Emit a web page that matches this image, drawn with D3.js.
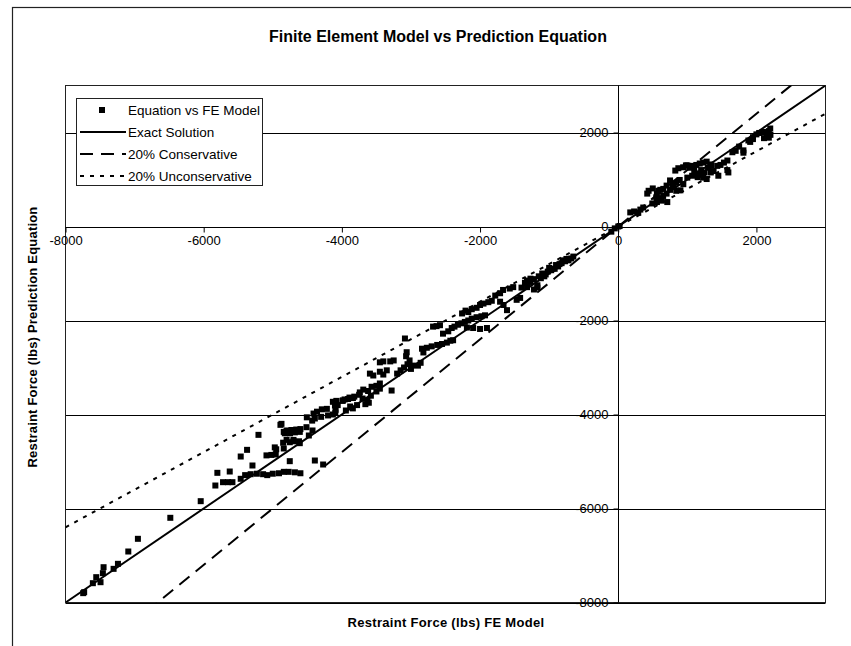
<!DOCTYPE html>
<html>
<head>
<meta charset="utf-8">
<script src="https://cdn.jsdelivr.net/npm/d3@7"></script>
<style>
  body { margin: 0; background: #fff; }
  text { font-family: Arial, "Liberation Sans", sans-serif; fill: #000; }
</style>
</head>
<body>
<svg id="chart" width="851" height="646"></svg>
<script>
// FE model force (x) vs prediction equation force (y), lbs
var points = [
  [-7744,-7801],[-7730,-7780],[-7604,-7589],[-7555,-7461],[-7493,-7568],[-7459,-7376],[-7449,-7249],
  [-7304,-7284],[-7241,-7177],[-7091,-6915],[-6952,-6645],[-6483,-6198],[-6043,-5844],[-5831,-5511],
  [-5802,-5241],[-5720,-5440],[-5648,-5440],[-5584,-5440],[-5623,-5213],[-5464,-5368],
  [-5400,-5290],[-5320,-5270],[-5230,-5260],[-5140,-5270],[-5080,-5290],[-5000,-5260],[-4910,-5250],
  [-4840,-5220],[-4770,-5220],[-4680,-5230],[-4600,-5250],
  [-5294,-5085],[-5464,-4894],[-5372,-4752],[-5207,-4433],[-5091,-4870],[-5020,-4860],[-4957,-4850],
  [-4971,-4700],[-4950,-4740],[-4889,-4220],[-4841,-4370],[-4800,-4340],[-4730,-4330],[-4660,-4320],
  [-4600,-4310],[-4754,-4590],[-4700,-4570],[-4609,-4610],[-4841,-4723],[-4754,-4993],[-4512,-4270],
  [-4425,-4340],[-4478,-4447],[-4391,-4979],[-4271,-5064],
  [-4391,-4085],[-4300,-4050],[-4200,-4020],[-4130,-4000],[-4100,-3810],[-4090,-3900],[-4095,-3960],
  [-3986,-3700],[-3890,-3640],[-3820,-3620],[-3750,-3580],[-3700,-3660],[-3630,-3700],[-3580,-3600],
  [-3500,-3510],[-3450,-3450],[-3942,-3915],[-3841,-3870],
  [-4874,-4199],[-4826,-4400],[-4750,-4400],[-4680,-4380],[-4609,-4370],[-4850,-4600],[-4800,-4540],
  [-4700,-4540],[-4620,-4570],
  [-4507,-4060],[-4430,-4130],[-4410,-3980],[-4360,-3940],[-4290,-3890],[-4217,-3880],
  [-4130,-3730],[-4080,-3710],[-4060,-3800],[-3990,-3710],[-3960,-3680],[-3910,-3670],[-3840,-3650],
  [-3880,-3830],[-3780,-3800],[-3660,-3780],[-3610,-3750],
  [-3740,-3530],[-3690,-3470],[-3620,-3500],[-3570,-3410],[-3500,-3390],[-3450,-3340],
  [-3594,-3130],[-3545,-3170],[-3450,-3090],[-3400,-3150],[-3350,-3060],
  [-3450,-2890],[-3400,-2870],[-3300,-2870],[-3250,-2850],[-3280,-3490],
  [-3200,-3130],[-3150,-3060],[-3100,-3000],[-3050,-2930],[-3020,-2850],[-3000,-3030],[-2985,-2960],
  [-3087,-2383],[-3062,-2675],[-3070,-2760],[-2899,-2960],[-2860,-2900],
  [-2840,-2600],[-2770,-2580],[-2700,-2550],[-2620,-2520],[-2550,-2500],[-2480,-2470],[-2430,-2430],
  [-2390,-2420],[-2820,-2680],
  [-2680,-2130],[-2630,-2120],[-2580,-2100],
  [-2536,-2280],[-2460,-2230],[-2410,-2160],[-2370,-2130],[-2320,-2090],[-2270,-2060],[-2220,-2030],
  [-2170,-2000],[-2120,-1960],[-2050,-1930],[-1980,-1910],[-1928,-1890],
  [-2260,-1850],[-2210,-1790],[-2170,-1820],[-2120,-1760],[-2050,-1730],[-2000,-1670],[-1950,-1640],
  [-1880,-1610],[-1830,-1580],[-1780,-1470],[-1710,-1420],
  [-2190,-2150],[-2100,-2160],[-2000,-2180],[-1900,-2160],
  [-1710,-1600],[-1660,-1670],[-1610,-1780],
  [-1667,-1350],[-1570,-1320],[-1520,-1290],[-1470,-1560],[-1420,-1520],
  [-1320,-1290],[-1270,-1180],[-1220,-1120],[-1170,-1250],[-1120,-1100],[-1070,-1060],[-1020,-960],
  [-970,-930],[-920,-900],[-870,-850],[-820,-780],[-770,-740],[-720,-720],[-680,-680],[-650,-640],
  [-1220,-1340],[-1170,-1300],[-1320,-1150],[-1270,-1110],
  [-1400,-1300],[-1350,-1200],[-1100,-1000],[-1000,-880],[-900,-820],[-800,-720],[-750,-690],
  [-1150,-1060],[-1050,-1020],[-950,-900],[-850,-800],
  [-100,-110],[-50,-40],[0,0],[20,10],
  [174,300],[230,320],[290,290],[320,360],[362,404],
  [420,700],[440,760],[500,810],[560,700],[580,760],[609,780],
  [493,490],[560,520],[630,550],[710,520],
  [652,800],[700,870],[750,980],[790,900],[840,930],[890,990],[840,760],[900,770],[942,900],
  [826,1190],[870,1240],[940,1260],[980,1300],[1030,1250],[1080,1290],[1130,1310],[1180,1340],
  [1230,1360],[1280,1380],[1333,1320],
  [1000,1040],[1070,1080],[1140,1130],[1190,1100],[1230,1040],[1280,1010],[1340,1150],[1380,1180],
  [1449,1080],[1434,1290],[1480,1310],[1530,1360],[1580,1404],[1580,1200],[1594,1150],
  [1652,1580],[1700,1610],[1750,1700],[1812,1620],[1812,1570],
  [1884,1830],[1910,1800],[1950,1900],[2000,1960],[2040,1990],[2090,2010],[2130,2010],[2150,1950],
  [2180,2030],[2110,1880],[1950,1860],[2200,2085],[2203,1950],[2180,1890],
  [1000,1300],[1100,1200],[1200,1200],[1300,1250],[750,780],[800,850],[650,650],[700,700],
  [600,600],[550,620],[1150,1050],[1250,1150],[1350,1300]
];

// reference lines, two end points each
var lineX = [-8000, 3000];
var exactY = [-8000, 3000];
var consY = [-9600, 3600];
var unconsY = [-6400, 2400];

var xTicks = [-8000, -6000, -4000, -2000, 0, 2000];
var yTicks = [-8000, -6000, -4000, -2000, 0, 2000];

var legendLabels = ["Equation vs FE Model", "Exact Solution", "20% Conservative", "20% Unconservative"];

var svg = d3.select("#chart");
var pLeft = 65.5, pRight = 825.5, pTop = 85.5, pBottom = 602.5;

var x = d3.scaleLinear().domain([-8000, 3000]).range([pLeft, pRight]);
var y = d3.scaleLinear().domain([-8000, 3000]).range([pBottom, pTop]);

// outer chart frame
svg.append("rect")
    .attr("x", 12.5).attr("y", 7.5)
    .attr("width", 900).attr("height", 700)
    .attr("fill", "#fff").attr("stroke", "#222").attr("stroke-width", 1.2);

svg.append("text")
    .attr("x", 438).attr("y", 42)
    .attr("text-anchor", "middle")
    .style("font-size", "16px").style("font-weight", "bold")
    .text("Finite Element Model vs Prediction Equation");

svg.append("defs").append("clipPath").attr("id", "plotclip")
  .append("rect")
    .attr("x", pLeft).attr("y", pTop)
    .attr("width", pRight - pLeft).attr("height", pBottom - pTop);

// horizontal gridlines
svg.append("g").selectAll("line")
    .data(yTicks)
    .enter().append("line")
      .attr("x1", pLeft).attr("x2", pRight)
      .attr("y1", function(d) { return Math.round(y(d)) + 0.5; })
      .attr("y2", function(d) { return Math.round(y(d)) + 0.5; })
      .attr("stroke", "#000").attr("stroke-width", 1);

svg.append("rect")
    .attr("x", pLeft).attr("y", pTop)
    .attr("width", pRight - pLeft).attr("height", pBottom - pTop)
    .attr("fill", "none").attr("stroke", "#222").attr("stroke-width", 1);

// axes crossing at zero
var fmt = function(d) { return String(d); };
var xAxis = d3.axisBottom(x).tickValues(xTicks).tickSize(5).tickPadding(3).tickFormat(fmt);
var yAxis = d3.axisLeft(y).tickValues(yTicks).tickSize(5).tickPadding(5).tickFormat(fmt);

var gx = svg.append("g")
    .attr("transform", "translate(0," + (Math.round(y(0)) + 0.5) + ")")
    .call(xAxis);
var gy = svg.append("g")
    .attr("transform", "translate(" + (Math.round(x(0)) + 0.5) + ",0)")
    .call(yAxis);

[gx, gy].forEach(function(g) {
  g.select(".domain").attr("stroke", "#000");
  g.selectAll(".tick line").attr("stroke", "#000");
  g.selectAll(".tick text")
    .style("font-size", "13px")
    .style("font-family", "Arial, 'Liberation Sans', sans-serif")
    .attr("fill", "#000");
});
gx.select(".domain").attr("d", "M" + pLeft + ",0H" + pRight);
gy.select(".domain").attr("d", "M0," + pTop + "V" + pBottom);

// scatter points
var plot = svg.append("g").attr("clip-path", "url(#plotclip)");

plot.selectAll("rect.pt")
    .data(points)
    .enter().append("rect")
      .attr("class", "pt")
      .attr("x", function(d) { return x(d[0]) - 3; })
      .attr("y", function(d) { return y(d[1]) - 3; })
      .attr("width", 6).attr("height", 6)
      .attr("fill", "#000");

var line = d3.line()
    .x(function(d) { return x(d[0]); })
    .y(function(d) { return y(d[1]); });

var series = [
  { ys: exactY, dash: null },
  { ys: consY, dash: "13,8" },
  { ys: unconsY, dash: "4,6" }
];

plot.selectAll("path.ref")
    .data(series)
    .enter().append("path")
      .attr("class", "ref")
      .attr("d", function(s) { return line(lineX.map(function(v, i) { return [v, s.ys[i]]; })); })
      .attr("fill", "none")
      .attr("stroke", "#000")
      .attr("stroke-width", 2)
      .attr("stroke-dasharray", function(s) { return s.dash; });

// axis titles
svg.append("text")
    .attr("x", 446).attr("y", 627)
    .attr("text-anchor", "middle")
    .style("font-size", "13px").style("font-weight", "bold")
    .style("letter-spacing", "0.3px")
    .text("Restraint Force (lbs) FE Model");

svg.append("text")
    .attr("transform", "translate(36.5,337) rotate(-90)")
    .attr("text-anchor", "middle")
    .style("font-size", "13px").style("font-weight", "bold")
    .style("letter-spacing", "0.2px")
    .text("Restraint Force (lbs) Prediction Equation");

// legend
var legend = svg.append("g");
legend.append("rect")
    .attr("x", 76.5).attr("y", 98.5)
    .attr("width", 186).attr("height", 87)
    .attr("fill", "#fff").attr("stroke", "#222").attr("stroke-width", 1);

var items = legend.selectAll("g.item")
    .data(legendLabels)
    .enter().append("g")
      .attr("class", "item")
      .attr("transform", function(d, i) { return "translate(0," + (110 + i * 22) + ")"; });

items.append("text")
    .attr("x", 128).attr("y", 4.5)
    .style("font-size", "13.5px")
    .text(function(d) { return d; });

items.filter(function(d, i) { return i === 0; })
  .append("rect")
    .attr("x", 99).attr("y", -3)
    .attr("width", 6).attr("height", 6)
    .attr("fill", "#000");

// filtered selection re-indexes from 0, so i matches series directly
items.filter(function(d, i) { return i > 0; })
  .append("line")
    .attr("x1", 80).attr("x2", 126)
    .attr("y1", 0).attr("y2", 0)
    .attr("stroke", "#000")
    .attr("stroke-width", 2)
    .attr("stroke-dasharray", function(d, i) { return series[i].dash; });
</script>
</body>
</html>
